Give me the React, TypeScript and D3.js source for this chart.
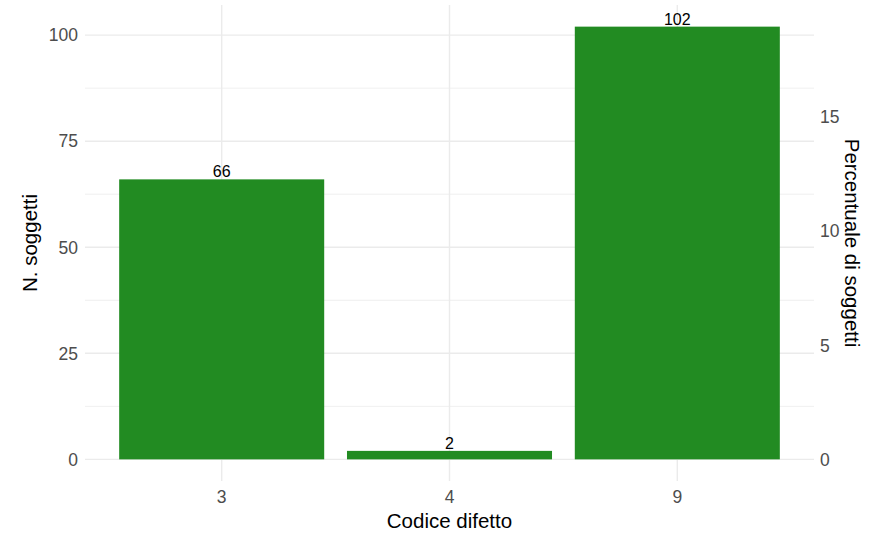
import React from "react";
import * as d3 from "d3";

const categories = ["3", "4", "9"];
const counts = [66, 2, 102];
const leftTicks = [0, 25, 50, 75, 100];
const rightTicks = [0, 5, 10, 15];
const totalSubjects = 538;

const W = 880;
const H = 535;
const panel = { left: 85, right: 814, top: 5, bottom: 481 };
const FONT = "Liberation Sans, Arial, Helvetica, sans-serif";

export default function App() {
  const maxV = d3.max(counts) as number;
  const pad = maxV * 0.05;
  const y = d3.scaleLinear().domain([-pad, maxV + pad]).range([panel.bottom, panel.top]);
  const x = d3
    .scalePoint<string>()
    .domain(categories)
    .range([panel.left, panel.right])
    .padding(0.6);
  const unit = x.step();
  const bw = unit * 0.9;
  const yPct = (p: number) => y((p / 100) * totalSubjects);
  const minor = d3.range(0, 4).map((i) => leftTicks[i] + 12.5);
  const gridColor = "#ebebeb";
  const mid = (panel.top + panel.bottom) / 2;
  return (
    <svg width={W} height={H} style={{ display: "block", position: "absolute", left: 0, top: 0 }} fontFamily={FONT}>
      <rect width={W} height={H} fill="white" />
      {minor.map((v) => (
        <line key={"mn" + v} x1={panel.left} x2={panel.right} y1={y(v)} y2={y(v)} stroke={gridColor} strokeWidth={0.8} />
      ))}
      {leftTicks.map((v) => (
        <line key={"mj" + v} x1={panel.left} x2={panel.right} y1={y(v)} y2={y(v)} stroke={gridColor} strokeWidth={1.4} />
      ))}
      {categories.map((c) => (
        <line key={"vx" + c} x1={x(c)} x2={x(c)} y1={panel.top} y2={panel.bottom} stroke={gridColor} strokeWidth={1.4} />
      ))}
      {categories.map((c, i) => (
        <rect key={"b" + c} x={(x(c) as number) - bw / 2} width={bw} y={y(counts[i])} height={y(0) - y(counts[i])} fill="#228B22" />
      ))}
      {categories.map((c, i) => (
        <text key={"l" + c} x={x(c)} y={y(counts[i]) - 2} textAnchor="middle" fontSize={16} fill="black">
          {counts[i]}
        </text>
      ))}
      {leftTicks.map((v) => (
        <text key={"lt" + v} x={78} y={y(v)} dy="0.36em" textAnchor="end" fontSize={17.5} fill="#4d4d4d">
          {v}
        </text>
      ))}
      {rightTicks.map((v) => (
        <text key={"rt" + v} x={820} y={yPct(v)} dy="0.36em" textAnchor="start" fontSize={17.5} fill="#4d4d4d">
          {v}
        </text>
      ))}
      {categories.map((c) => (
        <text key={"xt" + c} x={x(c)} y={497} dy="0.36em" textAnchor="middle" fontSize={17.5} fill="#4d4d4d">
          {c}
        </text>
      ))}
      <text x={(panel.left + panel.right) / 2} y={521} dy="0.36em" textAnchor="middle" fontSize={20.5} fill="black">
        Codice difetto
      </text>
      <text transform={`translate(30,${mid}) rotate(-90)`} dy="0.36em" textAnchor="middle" fontSize={20.5} fill="black">
        N. soggetti
      </text>
      <text transform={`translate(852,${mid}) rotate(90)`} dy="0.36em" textAnchor="middle" fontSize={20.5} fill="black">
        Percentuale di soggetti
      </text>
    </svg>
  );
}
